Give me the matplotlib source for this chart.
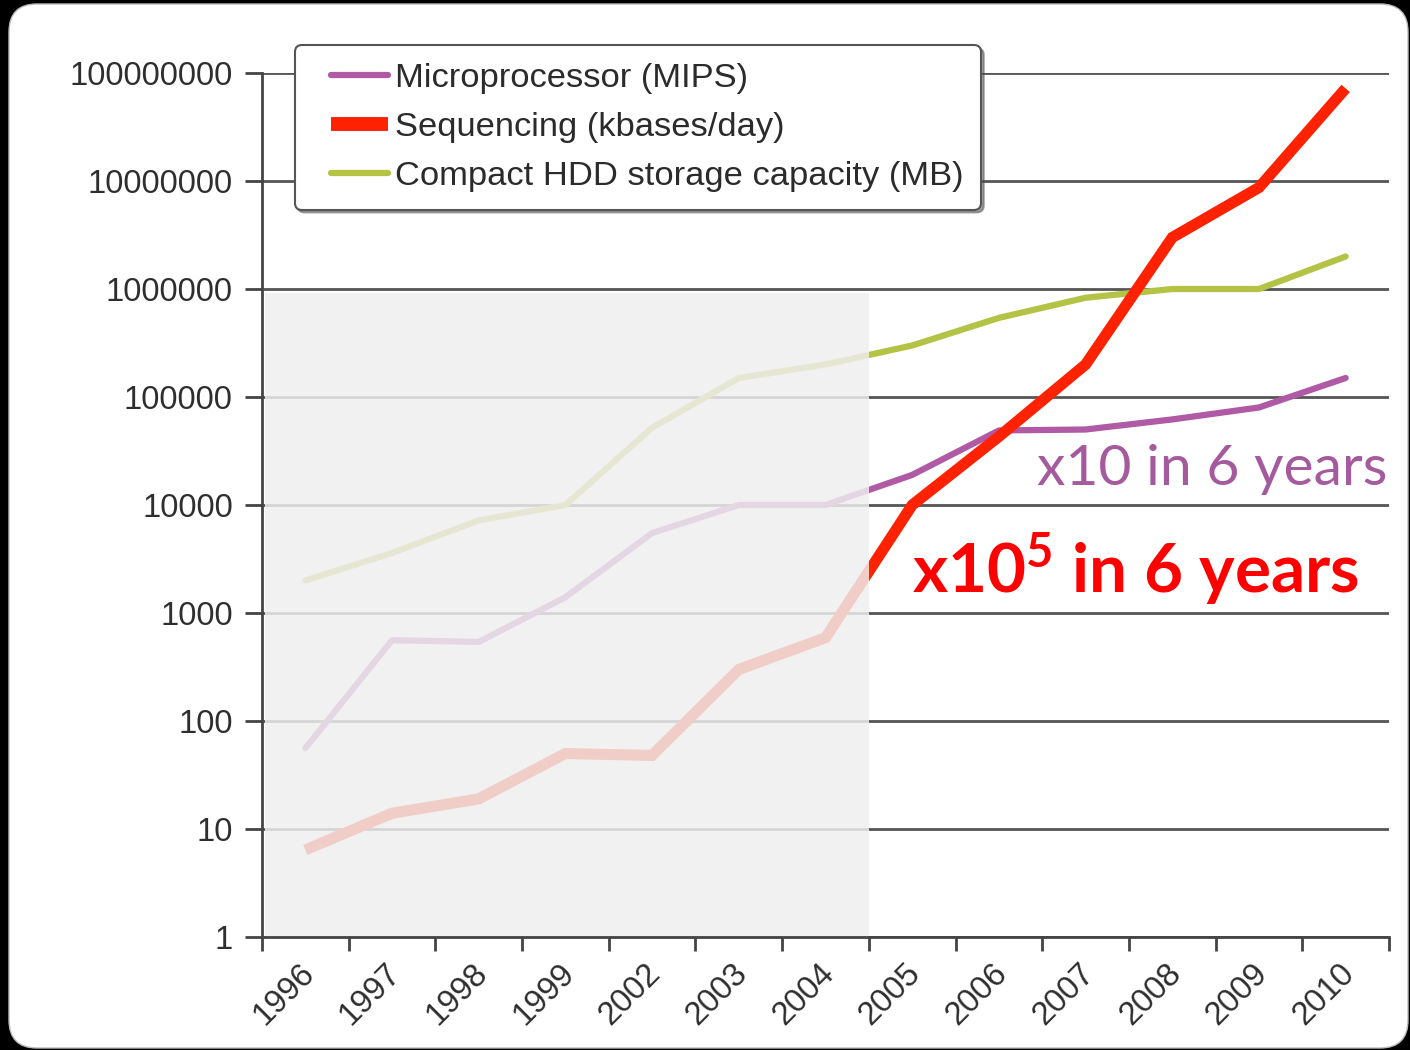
import numpy as np
import matplotlib
matplotlib.use("Agg")
import matplotlib.pyplot as plt
from matplotlib.patches import Rectangle, FancyBboxPatch
from matplotlib.transforms import IdentityTransform, ScaledTranslation
from matplotlib.legend_handler import HandlerLine2D

plt.rcParams['font.family'] = ['Liberation Sans', 'DejaVu Sans']
plt.rcParams['mathtext.fontset'] = 'custom'
plt.rcParams['mathtext.rm'] = 'Lato'
plt.rcParams['mathtext.bf'] = 'Lato:bold'

years = ["1996", "1997", "1998", "1999", "2002", "2003", "2004",
         "2005", "2006", "2007", "2008", "2009", "2010"]
mips = [56, 560, 540, 1400, 5500, 10000, 10000,
        19000, 49000, 50000, 62000, 80000, 150000]
sequencing = [6.4, 14, 19, 50, 48, 300, 590,
              10000, 43000, 200000, 3000000, 8700000, 72000000]
storage = [2000, 3600, 7200, 10000, 52000, 150000, 200000,
           300000, 540000, 830000, 1000000, 1000000, 2000000]
ytick_vals = [1, 10, 100, 1000, 10000, 100000, 1000000, 10000000, 100000000]

purple = "#b05aa5"
red = "#ff2200"
green = "#b4c346"
gray_text = "#2e2e2e"


class ShortLine(HandlerLine2D):
    # legend handle that starts a bit right of the usual spot
    def get_xdata(self, legend, xdescent, ydescent, width, height, fontsize):
        xdata, xm = super().get_xdata(legend, xdescent, ydescent, width, height, fontsize)
        x0, x1 = xdata[0], xdata[-1]
        return np.array([x0 + 0.25 * (x1 - x0), x1]), xm


fig = plt.figure(figsize=(14.1, 10.5), dpi=100)
fig.patch.set_facecolor("black")
card = FancyBboxPatch((9, 2), 1399, 1044,
                      boxstyle="round,pad=0,rounding_size=28",
                      transform=IdentityTransform(),
                      fc="white", ec="#bbbbbb", lw=1, zorder=-5)
fig.patches.append(card)

ax = fig.add_axes([262/1410, 1-937/1050, 1127/1410, 864/1050])
ax.set_facecolor("none")

x = np.arange(len(years)) + 0.5
l1, = ax.plot(x, mips, color=purple, lw=4.5, solid_capstyle="round",
              solid_joinstyle="round", label="Microprocessor (MIPS)", zorder=2)
l2, = ax.plot(x, sequencing, color=red, lw=8, solid_capstyle="butt",
              solid_joinstyle="miter", label="Sequencing (kbases/day)", zorder=2.1)
l3, = ax.plot(x, storage, color=green, lw=4.5, solid_capstyle="round",
              solid_joinstyle="round", label="Compact HDD storage capacity (MB)", zorder=2)

ax.set_yscale("log")
ax.set_ylim(1, 1e8)
ax.set_xlim(0, len(years))

ax.set_yticks(ytick_vals)
ax.set_yticklabels([str(v) for v in ytick_vals])
ax.yaxis.set_minor_locator(matplotlib.ticker.NullLocator())
ax.set_xticks(x)
ax.set_xticklabels(years, rotation=45, ha="right", va="top", rotation_mode="anchor")
ax.set_xticks(np.arange(len(years) + 1), minor=True)

ax.tick_params(axis="y", which="major", length=12, width=2, color="#444444",
               labelsize=23.5, labelcolor=gray_text, pad=9)
ax.tick_params(axis="x", which="major", length=0, labelsize=23.5, labelcolor=gray_text, pad=15)
ax.tick_params(axis="x", which="minor", length=10, width=2, color="#444444")
shift = ScaledTranslation(-7/100, 0, fig.dpi_scale_trans)
for lab in ax.get_xticklabels():
    lab.set_transform(lab.get_transform() + shift)

for s in ["top", "right"]:
    ax.spines[s].set_visible(False)
for s in ["left", "bottom"]:
    ax.spines[s].set_linewidth(2)
    ax.spines[s].set_color("#444444")

ax.grid(axis="y", which="major", color="#555555", lw=2)
ax.set_axisbelow(True)

# faded region over the early years
ax.add_patch(Rectangle((0.04, 1), 6.96, 9.2e5, fc="#efefef", ec="none",
                       alpha=0.84, zorder=2.3))

leg = ax.legend(loc="upper left", bbox_to_anchor=(0.029, 1.032), borderaxespad=0,
                fontsize=24.8, frameon=True, fancybox=True, shadow=True,
                handlelength=2.2, handletextpad=0.22, labelspacing=0.53,
                borderpad=0.5, framealpha=1,
                handler_map={l1: ShortLine(), l2: ShortLine(), l3: ShortLine()})
leg.get_frame().set_edgecolor("#555555")
leg.get_frame().set_linewidth(1.5)
for t in leg.get_texts():
    t.set_color("#2b2b2b")
leg.get_lines()[1].set_linewidth(10)
leg.set_zorder(5)

ax.text(8.94, 15300, "x10 in 6 years", family="Lato", fontsize=41,
        color="#a55a9e", va="baseline", ha="left", clip_on=False, zorder=6)
ax.text(7.5, 1530, r"x10$^{\mathbf{5}}$ in 6 years", family="Lato", fontsize=48.5,
        fontweight="bold", color="#ff0000", va="baseline", ha="left",
        clip_on=False, zorder=6)

fig.savefig("out.png", dpi=100, facecolor=fig.get_facecolor())
